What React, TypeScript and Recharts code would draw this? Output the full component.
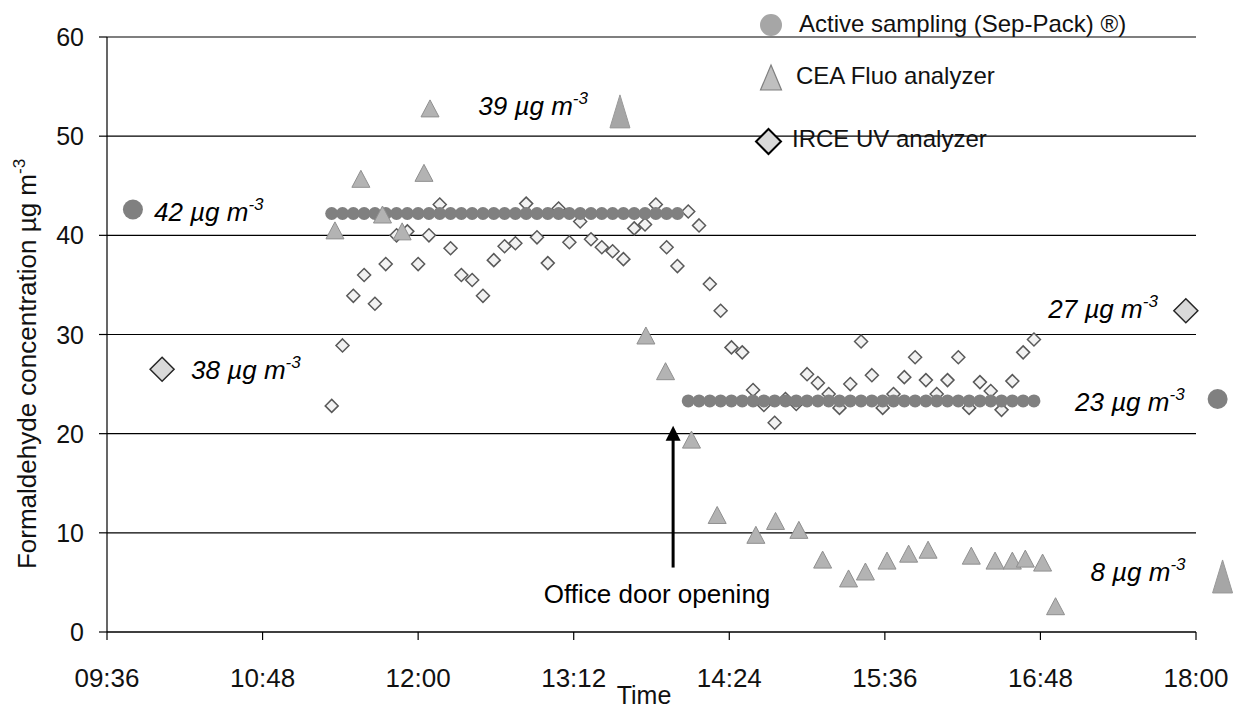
import React from 'react';
import {
  ScatterChart,
  Scatter,
  XAxis,
  YAxis,
  CartesianGrid,
  ReferenceDot,
  ReferenceLine
} from 'recharts';

const FONT = '"Liberation Sans", Arial, Helvetica, sans-serif';

// times are minutes after midnight
const timeTicks = [576, 648, 720, 792, 864, 936, 1008, 1080];
const valueTicks = [0, 10, 20, 30, 40, 50, 60];

// IRCE UV analyzer
const irceTimes = [
  680, 685, 690, 695, 700, 705, 710, 715, 720, 725, 730, 735, 740, 745, 750, 755, 760, 765,
  770, 775, 780, 785, 790, 795, 800, 805, 810, 815, 820, 825, 830, 835, 840, 845, 850, 855,
  860, 865, 870, 875, 880, 885, 890, 895, 900, 905, 910, 915, 920, 925, 930, 935, 940, 945,
  950, 955, 960, 965, 970, 975, 980, 985, 990, 995, 1000, 1005
];
const irceValues = [
  22.8, 28.9, 33.9, 36.0, 33.1, 37.1, 40.0, 40.4, 37.1, 40.0, 43.1, 38.7, 36.0, 35.5, 33.9, 37.5, 38.9, 39.2,
  43.2, 39.8, 37.2, 42.7, 39.3, 41.4, 39.6, 38.8, 38.4, 37.6, 40.7, 41.1, 43.1, 38.8, 36.9, 42.4, 41.0, 35.1,
  32.4, 28.7, 28.2, 24.4, 22.9, 21.1, 23.5, 23.0, 26.0, 25.1, 24.0, 22.6, 25.0, 29.3, 25.9, 22.6, 24.0, 25.7,
  27.7, 25.4, 24.0, 25.4, 27.7, 22.6, 25.2, 24.3, 22.4, 25.3, 28.2, 29.5
];

// CEA Fluo analyzer
const ceaTimes = [
  681.5, 693.5, 703.5, 712.6, 722.7, 725.5, 825.4, 834.5, 846.5, 858.4, 876.3, 885.4, 896.2,
  907.2, 919.2, 927, 937, 947, 956, 976, 987, 995, 1001, 1009, 1015
];
const ceaValues = [
  40.5, 45.7, 42.1, 40.4, 46.3, 52.8, 29.9, 26.3, 19.4, 11.8, 9.8, 11.2, 10.3,
  7.3, 5.4, 6.1, 7.2, 7.9, 8.3, 7.7, 7.2, 7.2, 7.4, 7.0, 2.6
];

// Active sampling (Sep-Pack): one level per sampling period
const activeTimesMorning = [
  680, 685, 690, 695, 700, 705, 710, 715, 720, 725, 730, 735, 740, 745, 750, 755, 760,
  765, 770, 775, 780, 785, 790, 795, 800, 805, 810, 815, 820, 825, 830, 835, 840
];
const activeTimesAfternoon = [
  845, 850, 855, 860, 865, 870, 875, 880, 885, 890, 895, 900, 905, 910, 915, 920, 925,
  930, 935, 940, 945, 950, 955, 960, 965, 970, 975, 980, 985, 990, 995, 1000, 1005
];
const activeLevels = [42.2, 23.3];

// mean values written next to the chart
const noteKinds = ['circle', 'diamond', 'triangle', 'diamond', 'circle', 'triangle'];
const noteTimes = [588, 601.5, 813.4, 1075.3, 1090, 1092.3];
const noteValues = [42.6, 26.5, 52.5, 32.4, 23.5, 5.6];
const noteTexts = ['42 µg m', '38 µg m', '39 µg m', '27 µg m', '23 µg m', '8 µg m'];
// label offset from marker: [dx, dy, anchor]
const noteOffsets: [number, number, string][] = [
  [21, 11, 'start'],
  [29, 10, 'start'],
  [-32, 4, 'end'],
  [-28, 7, 'end'],
  [-33, 12, 'end'],
  [-37, 5, 'end']
];

const doorTime = 838;
const doorArrow = [6.5, 20.8];

const irceData = irceTimes.map((t, i) => ({ t, v: irceValues[i] }));
const ceaData = ceaTimes.map((t, i) => ({ t, v: ceaValues[i] }));
const activeData = [
  ...activeTimesMorning.map((t) => ({ t, v: activeLevels[0] })),
  ...activeTimesAfternoon.map((t) => ({ t, v: activeLevels[1] }))
];

const fmtTime = (m: number) =>
  `${String(Math.floor(m / 60)).padStart(2, '0')}:${String(m % 60).padStart(2, '0')}`;

const diamondPath = (cx: number, cy: number, r: number) =>
  `M${cx},${cy - r}L${cx + r},${cy}L${cx},${cy + r}L${cx - r},${cy}Z`;
const trianglePath = (cx: number, cy: number, w: number, h: number) =>
  `M${cx},${cy - h / 2}L${cx + w / 2},${cy + h / 2}L${cx - w / 2},${cy + h / 2}Z`;

const Sup = () => (
  <tspan dy={-11} fontSize={17}>-3</tspan>
);

function NoteMarker(props: any) {
  const { cx, cy, idx } = props;
  const kind = noteKinds[idx];
  const [dx, dy, anchor] = noteOffsets[idx];
  let marker;
  if (kind === 'circle') marker = <circle cx={cx} cy={cy} r={10} fill="#808080" />;
  else if (kind === 'diamond')
    marker = <path d={diamondPath(cx, cy, 12)} fill="#d9d9d9" stroke="#262626" strokeWidth={1.5} />;
  else marker = <path d={trianglePath(cx, cy, 20, 33)} fill="#a6a6a6" stroke="#999" strokeWidth={1} />;
  return (
    <g>
      {marker}
      <text
        x={cx + dx}
        y={cy + dy}
        textAnchor={anchor as any}
        fontFamily={FONT}
        fontSize={26}
        fontStyle="italic"
        fill="#000"
      >
        {noteTexts[idx]}
        <Sup />
      </text>
    </g>
  );
}

function DoorArrow(props: any) {
  const { x1, y1, x2, y2 } = props;
  const top = Math.min(y1, y2);
  const bottom = Math.max(y1, y2);
  const x = x1;
  return (
    <g>
      <line x1={x} y1={bottom} x2={x} y2={top + 12} stroke="#000" strokeWidth={3} />
      <path d={`M${x},${top}L${x + 7.5},${top + 15}L${x - 7.5},${top + 15}Z`} fill="#000" />
      <text x={x - 16} y={bottom + 35} textAnchor="middle" fontFamily={FONT} fontSize={26} fill="#000">
        Office door opening
      </text>
    </g>
  );
}

function XTick(props: any) {
  const { x, y, payload } = props;
  return (
    <text x={x} y={y} dy="0.71em" textAnchor="middle" fontFamily={FONT} fontSize={26} fill="#111">
      {fmtTime(payload.value)}
    </text>
  );
}

function YTick(props: any) {
  const { x, y, payload } = props;
  return (
    <text x={x} y={y} dy="0.36em" textAnchor="end" fontFamily={FONT} fontSize={25} fill="#111">
      {payload.value}
    </text>
  );
}

export default function App() {
  return (
    <div style={{ position: 'absolute', left: 0, top: 0, width: 1239, height: 709, background: '#fff' }}>
      <ScatterChart width={1239} height={709} margin={{ top: 37, right: 43, left: 47, bottom: 37 }}>
        <CartesianGrid horizontal vertical={false} stroke="#000" strokeWidth={1.2} />
        <XAxis
          type="number"
          dataKey="t"
          domain={[576, 1080]}
          ticks={timeTicks}
          allowDataOverflow
          height={40}
          stroke="#000"
          strokeWidth={1.2}
          tickSize={8}
          tickMargin={29}
          tick={<XTick />}
        />
        <YAxis
          type="number"
          dataKey="v"
          domain={[0, 60]}
          ticks={valueTicks}
          width={60}
          stroke="#000"
          strokeWidth={1.2}
          tickSize={8}
          tickMargin={15}
          tick={<YTick />}
        />
        <Scatter
          name="IRCE UV analyzer"
          data={irceData}
          isAnimationActive={false}
          shape={(p: any) => (
            <path d={diamondPath(p.cx, p.cy, 6.5)} fill="#f2f2f2" stroke="#595959" strokeWidth={1.5} />
          )}
        />
        <Scatter
          name="Active sampling"
          data={activeData}
          isAnimationActive={false}
          shape={(p: any) => <circle cx={p.cx} cy={p.cy} r={6.5} fill="#808080" />}
        />
        <Scatter
          name="CEA Fluo analyzer"
          data={ceaData}
          isAnimationActive={false}
          shape={(p: any) => (
            <path d={trianglePath(p.cx, p.cy, 18, 17)} fill="#b3b3b3" stroke="#8f8f8f" strokeWidth={1} />
          )}
        />
        <ReferenceLine
          segment={[{ x: doorTime, y: doorArrow[0] }, { x: doorTime, y: doorArrow[1] }]}
          ifOverflow="visible"
          shape={<DoorArrow />}
        />
        {noteTimes.map((t, i) => (
          <ReferenceDot
            key={i}
            x={t}
            y={noteValues[i]}
            ifOverflow="visible"
            shape={(p: any) => <NoteMarker {...p} idx={i} />}
          />
        ))}
      </ScatterChart>
      <svg
        width={1239}
        height={709}
        style={{ position: 'absolute', left: 0, top: 0, pointerEvents: 'none' }}
        fontFamily={FONT}
      >
        <text transform="translate(36,364) rotate(-90)" textAnchor="middle" fontSize={26} fill="#111">
          Formaldehyde concentration µg m<Sup />
        </text>
        <text x={644} y={704} textAnchor="middle" fontSize={25} fill="#111">
          Time
        </text>
        <circle cx={771} cy={25} r={11} fill="#a6a6a6" />
        <text x={799} y={32} fontSize={24} fill="#111">
          Active sampling (Sep-Pack) ®)
        </text>
        <path d={trianglePath(771, 77.5, 21, 25)} fill="#bfbfbf" stroke="#7f7f7f" strokeWidth={1.2} />
        <text x={796} y={84} fontSize={24} fill="#111">
          CEA Fluo analyzer
        </text>
        <path d={diamondPath(768.5, 141.5, 12.5)} fill="#d9d9d9" stroke="#000" strokeWidth={2} />
        <text x={792} y={147} fontSize={24} fill="#111">
          IRCE UV analyzer
        </text>
      </svg>
    </div>
  );
}
